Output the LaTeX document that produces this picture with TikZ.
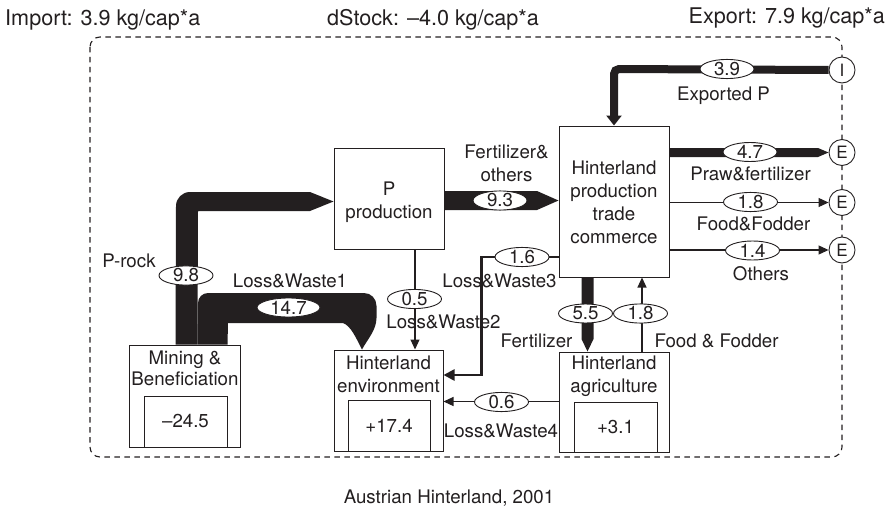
\documentclass[tikz,border=0pt]{standalone}
\usepackage{fontspec}
\setmainfont{TeX Gyre Heros}
\usetikzlibrary{shapes.geometric,arrows.meta}
\definecolor{ink}{RGB}{35,31,32}
\begin{document}
\begin{tikzpicture}[x=1pt,y=-1pt,
  every node/.style={text=ink},
  lbl/.style={font=\fontsize{18.7}{23}\selectfont, inner sep=0pt},
  head/.style={font=\fontsize{21.6}{25}\selectfont, inner sep=0pt},
  box/.style={draw=ink, line width=1pt, fill=white, inner sep=0pt, font=\fontsize{18.7}{23}\selectfont},
  val/.style={ellipse, draw=ink, fill=white, line width=0.9pt, inner sep=0pt,
    minimum width=54pt, minimum height=19pt, font=\fontsize{18.7}{23}\selectfont},
  port/.style={circle, draw=ink, fill=white, line width=0.9pt, inner sep=0pt,
    minimum size=26pt, font=\fontsize{17}{20}\selectfont},
  thinflow/.style={draw=ink, line width=1.1pt, -{Triangle[length=10pt,width=9pt]}},
  band/.style={fill=ink},
]
\useasboundingbox (0,0) rectangle (890,508);

% system boundary
\draw[ink, line width=1.1pt, dash pattern=on 5.5pt off 4.5pt, rounded corners=10pt]
  (90,37) rectangle (842,457);

% headings and caption
\node[head, anchor=base west] (import) at (5,26) {Import: 3.9 kg/cap*a};
\node[head, anchor=base] (dstock) at (433,26) {dStock: –4.0 kg/cap*a};
\node[head, anchor=base east] (export) at (885,24) {Export: 7.9 kg/cap*a};
\node[lbl, anchor=base] (caption) at (449,503) {Austrian Hinterland, 2001};

% processes
\node[box, minimum width=110pt, minimum height=101pt] (pprod) at (389,198.5) {};
\node[box, minimum width=110pt, minimum height=151pt] (hprod) at (614,201.5) {};
\node[box, minimum width=111pt, minimum height=102pt] (mine) at (184.5,396) {};
\node[box, minimum width=83pt, minimum height=51pt] (mineS) at (185.5,421.5) {–24.5};
\node[box, minimum width=109pt, minimum height=101pt] (env) at (388.5,400.5) {};
\node[box, minimum width=82pt, minimum height=51pt] (envS) at (389,425.5) {+17.4};
\node[box, minimum width=110pt, minimum height=100pt] (agri) at (614,402) {};
\node[box, minimum width=83pt, minimum height=50pt] (agriS) at (615.5,427) {+3.1};

\node[lbl, align=center] (pprodT) at (389,201.75) {P\\production};
\node[lbl, align=center] (hprodT) at (614,202.7) {Hinterland\\production\\trade\\commerce};
\node[lbl, align=center, font=\fontsize{18.7}{21}\selectfont] (mineT) at (185,368.7) {Mining \&\\Beneficiation};
\node[lbl, align=center] (envT) at (388.5,374.7) {Hinterland\\environment};
\node[lbl, align=center] (agriT) at (614,376.2) {Hinterland\\agriculture};

% import / export ports
\node[port] (I) at (842,70) {I};
\node[port] (E1) at (842,152.5) {E};
\node[port] (E2) at (842,202.5) {E};
\node[port] (E3) at (842,250) {E};

% P-rock: mining -> P production
\fill[band] ([xshift=47pt]mine.north west) -- (176,206)
  .. controls (176,198.27) and (182.27,192) .. (190,192) -- (310,192)
  -- (pprod.west |- 0,201.5) -- (310,211) -- (198,211)
  -- ([xshift=69pt]mine.north west) -- cycle;

% Loss&Waste1: mining -> environment
\fill[band] ([xshift=69pt]mine.north west) -- (198,303)
  .. controls (198,297.48) and (202.48,293) .. (208,293) -- (364,293)
  .. controls (371.2,293) and (376.5,298.8) .. (376.5,306) -- (376.5,318)
  .. controls (376.5,330) and (367,340) .. (362,0 |- env.north)
  .. controls (356,338) and (351,326) .. (343,323) -- (228,323)
  -- ([xshift=99pt]mine.north west) -- cycle;

% Fertilizer & others: P production -> hinterland production
\fill[band] (pprod.east |- 0,191) -- (537,191) -- (hprod.west |- 0,200.5)
  -- (537,210) -- (pprod.east |- 0,210) -- cycle;

% Praw & fertilizer export
\fill[band] (hprod.east |- 0,148) -- (818,148) -- (E1.west)
  -- (818,157) -- (hprod.east |- 0,157) -- cycle;

% Fertilizer to agriculture
\fill[band] (581.5,0 |- hprod.south) -- (581.5,339) -- (587.5,0 |- agri.north)
  -- (593.5,339) -- (593.5,0 |- hprod.south) -- cycle;

% Exported P
\draw[ink, line width=8pt, rounded corners=5pt, -{Triangle[length=10pt,width=15pt]}]
  (I.west) -- (614,69) -- (614,0 |- hprod.north);

% Loss&Waste3
\draw[ink, line width=2.5pt, -{Triangle[length=11pt,width=11pt]}]
  (hprod.west |- 0,257) -- (481.5,257) -- (481.5,375) -- (env.east |- 0,375);

% thin flows
\draw[thinflow] (415,0 |- pprod.south) -- (415,0 |- env.north);
\draw[thinflow] (agri.west |- 0,401.5) -- (env.east |- 0,401.5);
\draw[thinflow] (642,0 |- agri.north) -- (642,0 |- hprod.south);
\draw[thinflow] (hprod.east |- E2) -- (E2.west);
\draw[thinflow] (hprod.east |- E3) -- (E3.west);

% flow values
\node[val] (v39) at (727,69) {3.9};
\node[val] (v47) at (750,152) {4.7};
\node[val] (v18e) at (750.5,202) {1.8};
\node[val] (v14) at (752.5,250.5) {1.4};
\node[val] (v93) at (500,200.5) {9.3};
\node[val] (v98) at (186,275.5) {9.8};
\node[val, minimum width=63pt] (v147) at (288.5,307.5) {14.7};
\node[val] (v05) at (414.5,299) {0.5};
\node[val] (v16) at (522,257) {1.6};
\node[val] (v55) at (585.5,313.5) {5.5};
\node[val] (v18a) at (640.5,313.5) {1.8};
\node[val] (v06) at (501.5,402) {0.6};

% flow names
\node[lbl, anchor=base] (nExp) at (723.5,100) {Exported P};
\node[lbl, anchor=base] (nPraw) at (750.5,180) {Praw\&fertilizer};
\node[lbl, anchor=base] (nFF) at (753.5,230) {Food\&Fodder};
\node[lbl, anchor=base] (nOth) at (761,280) {Others};
\node[lbl, align=center] (nFert) at (506.5,163.7) {Fertilizer\&\\others};
\node[lbl, anchor=base] (nRock) at (129,267) {P-rock};
\node[lbl, anchor=base] (nLW1) at (290,287) {Loss\&Waste1};
\node[lbl, anchor=base] (nLW2) at (443.5,328) {Loss\&Waste2};
\node[lbl, anchor=base] (nLW3) at (499.5,287) {Loss\&Waste3};
\node[lbl, anchor=base] (nLW4) at (501,437) {Loss\&Waste4};
\node[lbl, anchor=base] (nFer) at (536.5,347) {Fertilizer};
\node[lbl, anchor=base] (nFood) at (716.5,347) {Food \& Fodder};
\end{tikzpicture}
\end{document}
